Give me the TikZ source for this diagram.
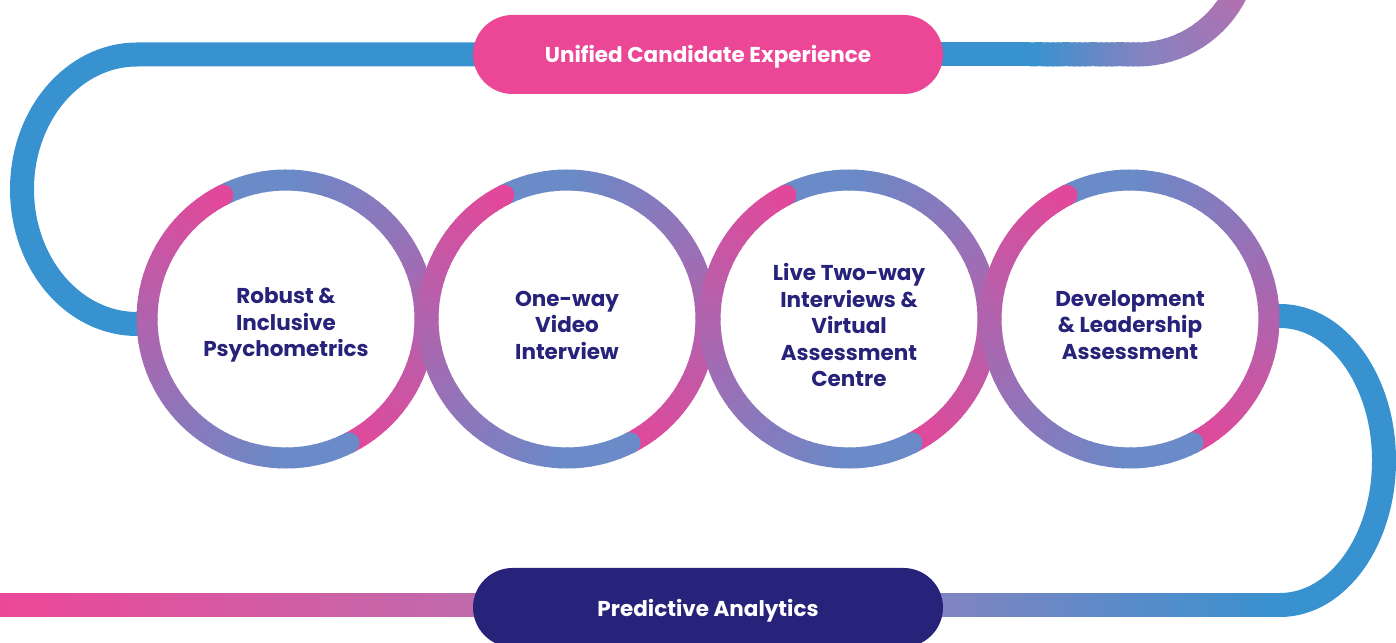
\documentclass[tikz,border=0pt]{standalone}
\usepackage{fontspec}
\setmainfont{Poppins}
\usetikzlibrary{calc,backgrounds}

\definecolor{pathblue}{HTML}{3792CF}
\definecolor{pathpink}{HTML}{EC4899}
\definecolor{pathmauve}{HTML}{BD6DAC}
\definecolor{pathlilac}{HTML}{8483C1}
\definecolor{pathplum}{HTML}{B070B0}
\definecolor{ringpink}{HTML}{E2489A}
\definecolor{ringblue}{HTML}{6A8AC8}
\definecolor{pillpink}{HTML}{EC4797}
\definecolor{stagenavy}{HTML}{27237A}

\tikzset{
  pill/.style={rounded corners=39.5pt, minimum width=470pt, minimum height=79pt,
    text height=22pt, text depth=5pt,
    text=white, font=\fontsize{21.5}{26}\selectfont\bfseries},
  stage/.style={circle, fill=white, minimum size=278pt, inner sep=0pt},
  stagetext/.style={align=center, text=stagenavy, yshift=-6pt,
    font=\fontsize{21.5}{26.5}\selectfont\bfseries},
  track/.style={line width=24pt},
  ring/.style={line width=21pt},
}

\begin{document}
\begin{tikzpicture}[x=1pt,y=1pt]
\useasboundingbox (0,0) rectangle (1396,642);
\clip (0,0) rectangle (1396,642);

% the four stages
\node[stage, label={[stagetext]center:{Robust \&\\Inclusive\\Psychometrics}}] (c1) at (286,323) {};
\node[stage, label={[stagetext]center:{One-way\\Video\\Interview}}] (c2) at (567,323) {};
\node[stage, label={[stagetext]center:{Live Two-way\\Interviews \&\\Virtual\\Assessment\\Centre}}] (c3) at (849,323) {};
\node[stage, label={[stagetext]center:{Development\\\& Leadership\\Assessment}}] (c4) at (1130,323) {};

% the two bands
\node[pill, fill=pillpink] (unified) at (708,587.5) {Unified Candidate Experience};
\node[pill, fill=stagenavy] (predictive) at (708,34.5) {Predictive Analytics};

\coordinate (leftend) at (0,37);
\coordinate (fadetop) at (1030,587.5);
\coordinate (bendtop) at (1137,587.5);
\coordinate (bendright) at (1280,37);

\begin{scope}[on background layer]
% left loop
\draw[track, pathblue] (unified.center) -- (137,587.5)
  arc[start angle=90, end angle=270, x radius=115, y radius=134.75]
  -- ([yshift=-5pt]c1.center);
% right loop
\draw[track, pathblue] (bendright)
  arc[start angle=-90, end angle=90, x radius=104, y radius=144.5]
  -- ([yshift=3pt]c4.center);
% top right, fading out
\draw[track, pathblue] (unified.center) -- (fadetop);
\foreach \i in {0,...,19}{
  \pgfmathtruncatemacro\p{5*\i}
  \draw[track, pathlilac!\p!pathblue] ($(fadetop)!\i/20!(bendtop)$) -- ($(fadetop)!{(\i+1.5)/20}!(bendtop)$);
}
\foreach \i in {0,...,22}{
  \pgfmathsetmacro\a{-90+4*\i}
  \pgfmathtruncatemacro\p{min(100,100*4*\i/60)}
  \draw[track, pathplum!\p!pathlilac] ($(bendtop)+(0,110)+(\a:110)$) arc[start angle=\a, end angle=\a+5, radius=110];
}
% bottom left
\foreach \i in {0,...,39}{
  \pgfmathtruncatemacro\p{2.5*\i}
  \draw[track, pathmauve!\p!pathpink] ($(leftend)!\i/40!([xshift=20pt]predictive.west |- leftend)$) -- ($(leftend)!{(\i+1.5)/40}!([xshift=20pt]predictive.west |- leftend)$);
}
% bottom right
\foreach \i in {0,...,39}{
  \pgfmathtruncatemacro\p{2.5*\i}
  \draw[track, pathblue!\p!pathlilac] ($([xshift=-20pt]predictive.east |- bendright)!\i/40!(bendright)$) -- ($([xshift=-20pt]predictive.east |- bendright)!{(\i+1.5)/40}!(bendright)$);
}
\end{scope}

% rings: back half first, front half on top
\foreach \stage in {c1,c2,c3,c4}{
  \foreach \s in {297,117}{
    \foreach \i in {0,...,59}{
      \pgfmathsetmacro\a{\s+3*\i}
      \pgfmathtruncatemacro\p{min(100,2*\i)}
      \draw[ring, ringblue!\p!ringpink] ($(\stage)+(\a:139)$) arc[start angle=\a, end angle=\a+3.6, radius=139];
    }
    \fill[ringpink] ($(\stage)+(\s:139)$) circle[radius=10.5];
  }
  \fill[ringblue] ($(\stage)+(297:139)$) circle[radius=10.5];
}
\end{tikzpicture}
\end{document}
